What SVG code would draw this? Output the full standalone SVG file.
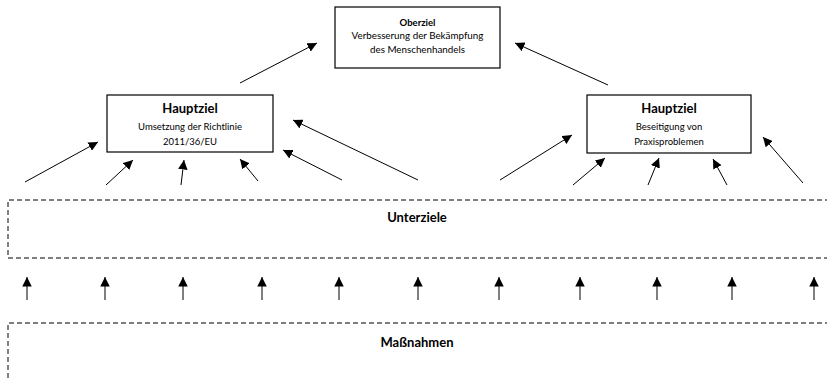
<svg xmlns="http://www.w3.org/2000/svg" width="827" height="380" viewBox="0 0 827 380">
<defs>
<marker id="ah" viewBox="0 0 10 10" refX="10" refY="5" markerWidth="9.5" markerHeight="9.5" markerUnits="userSpaceOnUse" orient="auto">
<path d="M0,0 L10,5 L0,10 z" fill="#000"/>
</marker>
<style>
.box{fill:#fff;stroke:#000;stroke-width:1.2}
.dash{fill:none;stroke:#000;stroke-width:1;stroke-dasharray:5,3}
.t{font-family:Lato,"Open Sans","Liberation Sans",sans-serif;fill:#000;text-anchor:middle}
.b{font-weight:bold}
.c line{stroke:#000;stroke-width:1;marker-end:url(#ah)}
</style>
</defs>
<rect width="827" height="380" fill="#fff"/>
<g id="oberziel">
<rect class="box" x="335" y="7" width="165" height="61"/>
<text class="t b" x="417.5" y="26" font-size="9.5">Oberziel</text>
<text class="t" x="417.5" y="39" font-size="9.8">Verbesserung der Bekämpfung</text>
<text class="t" x="417.5" y="53" font-size="9.8">des Menschenhandels</text>
</g>
<g id="hauptziel1">
<rect class="box" x="107" y="95" width="166" height="57"/>
<text class="t b" x="190" y="113" font-size="13">Hauptziel</text>
<text class="t" x="190" y="130" font-size="9.5">Umsetzung der Richtlinie</text>
<text class="t" x="190" y="145" font-size="9.5">2011/36/EU</text>
</g>
<g id="hauptziel2">
<rect class="box" x="587" y="95" width="164" height="58"/>
<text class="t b" x="669" y="113" font-size="13">Hauptziel</text>
<text class="t" x="669" y="130" font-size="9.5">Beseitigung von</text>
<text class="t" x="669" y="145" font-size="9.5">Praxisproblemen</text>
</g>
<g id="unterziele">
<path class="dash" d="M830,200 H8 V258 H830"/>
<text class="t b" x="417" y="222" font-size="13">Unterziele</text>
</g>
<g id="massnahmen">
<path class="dash" d="M830,323 H8 V385"/>
<text class="t b" x="417" y="347" font-size="13">Maßnahmen</text>
</g>
<g class="c" id="connectors">
<line x1="240" y1="83" x2="317" y2="43"/>
<line x1="608" y1="85" x2="515" y2="43"/>
<line x1="25" y1="182" x2="98" y2="142"/>
<line x1="106" y1="185" x2="133" y2="160"/>
<line x1="181" y1="185" x2="184" y2="160"/>
<line x1="258" y1="181" x2="240" y2="159"/>
<line x1="342" y1="180" x2="283" y2="150"/>
<line x1="418" y1="180" x2="293" y2="120"/>
<line x1="500" y1="180" x2="572" y2="135"/>
<line x1="573" y1="185" x2="605" y2="158"/>
<line x1="648" y1="185" x2="659" y2="158"/>
<line x1="727" y1="185" x2="713" y2="159"/>
<line x1="803" y1="183" x2="763" y2="137"/>
<line x1="27" y1="300" x2="27" y2="277"/>
<line x1="105" y1="300" x2="105" y2="277"/>
<line x1="183" y1="300" x2="183" y2="277"/>
<line x1="262" y1="300" x2="262" y2="277"/>
<line x1="339" y1="300" x2="339" y2="277"/>
<line x1="418" y1="300" x2="418" y2="277"/>
<line x1="499" y1="300" x2="499" y2="277"/>
<line x1="580" y1="300" x2="580" y2="277"/>
<line x1="657" y1="300" x2="657" y2="277"/>
<line x1="732" y1="300" x2="732" y2="277"/>
<line x1="814" y1="300" x2="814" y2="277"/>
</g>
</svg>
